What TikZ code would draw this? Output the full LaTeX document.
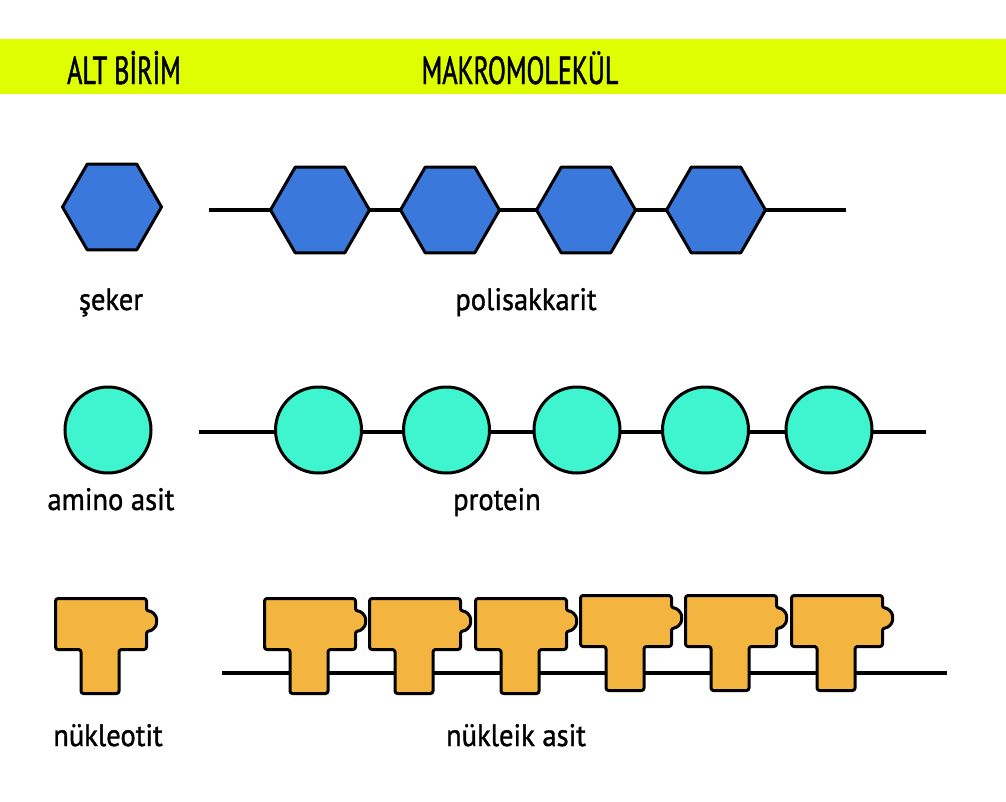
\documentclass[tikz,border=0pt]{standalone}
\usepackage{fontspec}
\setmainfont{PT Sans}
\newfontfamily\headfont{PT Sans}[FakeStretch=0.67,FakeBold=1.2]
\newfontfamily\lblfont{PT Sans}[FakeStretch=0.92,FakeBold=1.2]
\usetikzlibrary{shapes.geometric}
\definecolor{bandyellow}{HTML}{DFFF00}
\definecolor{hexblue}{HTML}{3A78DC}
\definecolor{aminocyan}{HTML}{3EF5D0}
\definecolor{nucorange}{HTML}{F3B53F}
\tikzset{
  hexa/.style={regular polygon, regular polygon sides=6, minimum size=99pt, inner sep=0pt, draw=black, line width=3pt, fill=hexblue, line join=round},
  ball/.style={circle, minimum size=86pt, inner sep=0pt, draw=black, line width=3pt, fill=aminocyan},
  nuc/.style={draw=black, line width=3pt, fill=nucorange, rounded corners=2.5pt, line join=round},
  chain/.style={line width=4pt, draw=black},
  headtxt/.style={font=\headfont\fontsize{39}{42}\selectfont, anchor=base},
  lbl/.style={font=\lblfont\fontsize{31}{33}\selectfont, anchor=base}
}
\newcommand\nucat[2]{%
  \draw[nuc, shift={(#1,#2)}] (1.5,1.5) -- (92.5,1.5) -- (92.5,14)
    .. controls (98,14) and (102.5,18.5) .. (102.5,24)
    .. controls (102.5,29.5) and (98,34) .. (92.5,34)
    -- (92.5,52.5) -- (65,52.5) -- (65,96.5) -- (27,96.5) -- (27,52.5) -- (1.5,52.5) -- cycle;}
\begin{document}
\begin{tikzpicture}[x=1pt,y=-1pt]
\useasboundingbox (0,0) rectangle (1006,801);
\fill[white] (0,0) rectangle (1006,801);
% header
\fill[bandyellow] (0,39) rectangle (1006,94);
\node[headtxt] (hA) at (124,84) {ALT BİRİM};
\node[headtxt] (hB) at (520,84) {MAKROMOLEKÜL};
% sugars
\node[hexa] (s0) at (112,207) {};
\coordinate (pl) at (209,210);
\coordinate (pr) at (846,210);
\draw[chain] (pl) -- (pr);
\node[hexa] (s1) at (320,210) {};
\node[hexa] (s2) at (450,210) {};
\node[hexa] (s3) at (586,210) {};
\node[hexa] (s4) at (716,210) {};
\node[lbl] (l1) at (111,310) {şeker};
\node[lbl] (l2) at (526,310) {polisakkarit};
% amino acids
\node[ball] (a0) at (108,430) {};
\coordinate (ql) at (199,432);
\coordinate (qr) at (926,432);
\draw[chain] (ql) -- (qr);
\node[ball] (a1) at (318.5,430) {};
\node[ball] (a2) at (446.5,430) {};
\node[ball] (a3) at (577,430) {};
\node[ball] (a4) at (705.5,430) {};
\node[ball] (a5) at (829,430) {};
\node[lbl] (l3) at (111,510) {amino asit};
\node[lbl] (l4) at (497,510) {protein};
% nucleotides
\nucat{54}{597}
\coordinate (nl) at (222,673);
\coordinate (nr) at (947,673);
\draw[chain] (nl) -- (nr);
\nucat{263}{597}
\nucat{368}{597}
\nucat{474}{597}
\nucat{579}{594}
\nucat{684}{594}
\nucat{790}{594}
\node[lbl] (l5) at (108,746) {nükleotit};
\node[lbl] (l6) at (516,746) {nükleik asit};
\end{tikzpicture}
\end{document}
